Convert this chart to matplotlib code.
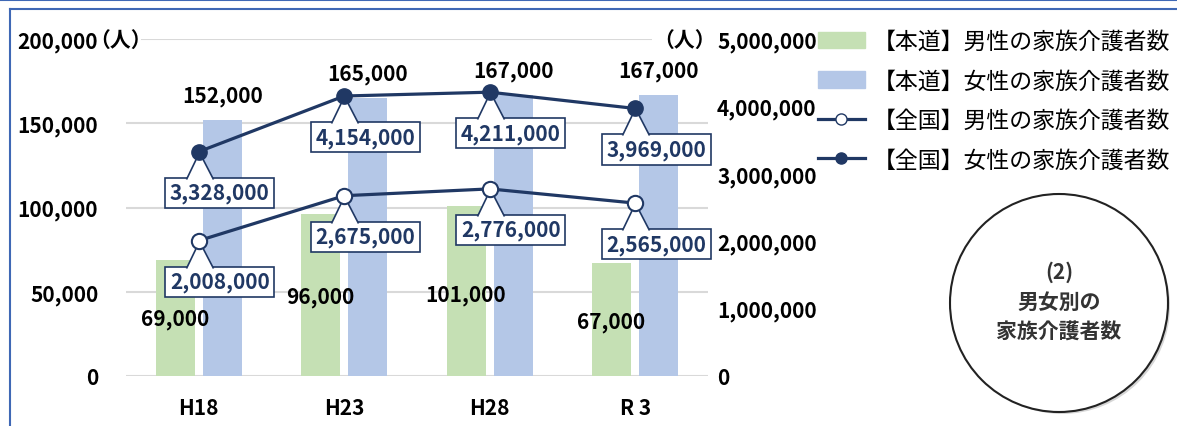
#%%############################################################################
# Family caregivers by sex: Hokkaido (bars) vs nationwide (lines).
###############################################################################
import numpy as np
import matplotlib.pyplot as plt
from matplotlib.lines import Line2D
from matplotlib.patches import Patch, Circle
from matplotlib.path import Path
from matplotlib.transforms import IdentityTransform

plt.rcParams['font.family'] = ['Noto Sans CJK JP', 'DejaVu Sans']

#%%############################################################################
# Data.
###############################################################################
years = ['H18', 'H23', 'H28', 'R 3']
hokkaidoMale = [69000, 96000, 101000, 67000]
hokkaidoFemale = [152000, 165000, 167000, 167000]
nationMale = [2008000, 2675000, 2776000, 2565000]
nationFemale = [3328000, 4154000, 4211000, 3969000]
seriesNames = ['【本道】男性の家族介護者数', '【本道】女性の家族介護者数',
               '【全国】男性の家族介護者数', '【全国】女性の家族介護者数']

leftTicks = [0, 50000, 100000, 150000, 200000]
rightTicks = [0, 1000000, 2000000, 3000000, 4000000, 5000000]

# label offsets (pixels) for the green bar labels, placed by hand in the original
maleLabelDy = [-59, -82, -89, -58]

green = '#C5E0B4'
blue = '#B4C7E7'
navy = '#203864'
frameBlue = '#3F68B5'

#%%############################################################################
# Plot.
###############################################################################
fig = plt.figure(figsize=(11.77, 4.27), dpi=100)
ax = fig.add_axes([126/1177, 50/427, 582/1177, 337/427])
ax2 = ax.twinx()

x = np.arange(len(years))
barW = 0.268
off = 0.163
ax.bar(x - off, hokkaidoMale, barW, color=green, zorder=2)
ax.bar(x + off, hokkaidoFemale, barW, color=blue, zorder=2)

ax.set_xlim(-0.5, len(years) - 0.5)
ax.set_ylim(0, 200000)
ax.set_yticks(leftTicks)
ax.set_yticklabels(['{:,}'.format(v) for v in leftTicks])
# gridlines drawn by hand so the top one can leave room for the unit label
for v in leftTicks:
    ax.axhline(v, xmin=16/582 if v == leftTicks[-1] else 0, color='#D9D9D9',
               linewidth=1.5, zorder=0)
ax.set_xticks(x)
ax.set_xticklabels(years)
for s in ax.spines.values():
    s.set_visible(False)
for s in ax2.spines.values():
    s.set_visible(False)
ax.tick_params(axis='both', length=0, labelsize=15, colors='black')
ax.tick_params(axis='y', pad=20)
ax.tick_params(axis='x', pad=15)
for t in ax.get_yticklabels() + ax.get_xticklabels():
    t.set_fontweight('bold')

ax2.set_ylim(0, 5000000)
ax2.set_yticks(rightTicks)
ax2.set_yticklabels(['{:,}'.format(v) for v in rightTicks])
ax2.tick_params(axis='y', length=0, labelsize=15, pad=6.5, colors='black')
for t in ax2.get_yticklabels():
    t.set_fontweight('bold')

ax2.plot(x, nationMale, '-o', color=navy, lw=2.3, ms=11, mfc='white', mec=navy,
         mew=1.5, zorder=5)
ax2.plot(x, nationFemale, '-o', color=navy, lw=2.3, ms=11, mfc=navy, mec=navy,
         zorder=5)

# bar labels
for i in range(len(years)):
    ax.annotate('{:,}'.format(hokkaidoFemale[i]), (x[i] + off, hokkaidoFemale[i]),
                xytext=(0, 24), textcoords='offset pixels', ha='center', va='center',
                fontsize=15, fontweight='bold', color='black')
    ax.annotate('{:,}'.format(hokkaidoMale[i]), (x[i] - off, hokkaidoMale[i]),
                xytext=(0, maleLabelDy[i]), textcoords='offset pixels', ha='center',
                va='center', fontsize=15, fontweight='bold', color='black')

# callout labels for the nationwide lines: a box plus a triangular pointer.
# the pointer is a custom marker scaled so that one path unit is one pixel.
pointerFill = Path([(-13.96, -29), (0, 0), (15.04, -29), (-13.96, -29)],
                   [Path.MOVETO, Path.LINETO, Path.LINETO, Path.CLOSEPOLY])
pointerEdge = Path([(-13, -27), (0, 0), (14, -27)],
                   [Path.MOVETO, Path.LINETO, Path.LINETO])
for series in [nationMale, nationFemale]:
    ax2.plot(x, series, ls='none', marker=pointerFill, ms=2*29*0.72, mfc='white',
             mec='none', mew=0, zorder=4.4)
    ax2.plot(x, series, ls='none', marker=pointerEdge, ms=2*27*0.72, mfc='none',
             mec=navy, mew=1.2, zorder=4.5)
    for i in range(len(years)):
        ax2.annotate('{:,}'.format(series[i]), (x[i], series[i]),
                     xytext=(21, -41), textcoords='offset pixels', ha='center',
                     va='center', fontsize=15, fontweight='bold', color=navy,
                     bbox=dict(boxstyle='square,pad=0.22', fc='white', ec=navy, lw=1.2),
                     zorder=4)

# unit labels
ax.annotate('（人）', (0, 200000), xycoords=('axes fraction', 'data'), xytext=(-37, 0),
            textcoords='offset pixels', ha='left', va='center', fontsize=15,
            fontweight='bold', color='black', zorder=6)
ax.annotate('（人）', (1, 200000), xycoords=('axes fraction', 'data'), xytext=(8, 0),
            textcoords='offset pixels', ha='right', va='center', fontsize=15,
            fontweight='bold', color='black', zorder=6,
            bbox=dict(boxstyle='square,pad=0.05', fc='white', ec='none'))

# legend
handles = [Patch(color=green), Patch(color=blue),
           Line2D([], [], color=navy, lw=2.3, marker='o', ms=8, mfc='white', mec=navy),
           Line2D([], [], color=navy, lw=2.3, marker='o', ms=8, mfc=navy, mec=navy)]
fig.legend(handles, seriesNames, loc='upper left', bbox_to_anchor=(818/1177, 1 - 31/427),
           frameon=False, fontsize=16.5, handlelength=2.05, handletextpad=0.35,
           labelspacing=0.72, borderpad=0, borderaxespad=0)

# title circle
shadow = Circle((1062, 427 - 307), 108, transform=IdentityTransform(), fc='#BBBBBB',
                ec='none', alpha=0.6)
circ = Circle((1059, 427 - 304), 109, transform=IdentityTransform(), fc='white',
              ec='#222222', lw=1.5)
fig.add_artist(shadow)
fig.add_artist(circ)
fig.text(1059/1177, 1 - 302/427, '(2)\n男女別の\n家族介護者数', ha='center', va='center',
         fontsize=15, fontweight='bold', color='#333333', linespacing=1.5)

# frame
fig.add_artist(Line2D([0, 1], [1 - 1/427, 1 - 1/427], color=frameBlue, lw=1.5))
fig.add_artist(Line2D([10/1177, 1], [1 - 10/427, 1 - 10/427], color=frameBlue, lw=1.5))
fig.add_artist(Line2D([10/1177, 10/1177], [0, 1 - 10/427], color=frameBlue, lw=1.5))

fig.savefig('out.png', dpi=100)
